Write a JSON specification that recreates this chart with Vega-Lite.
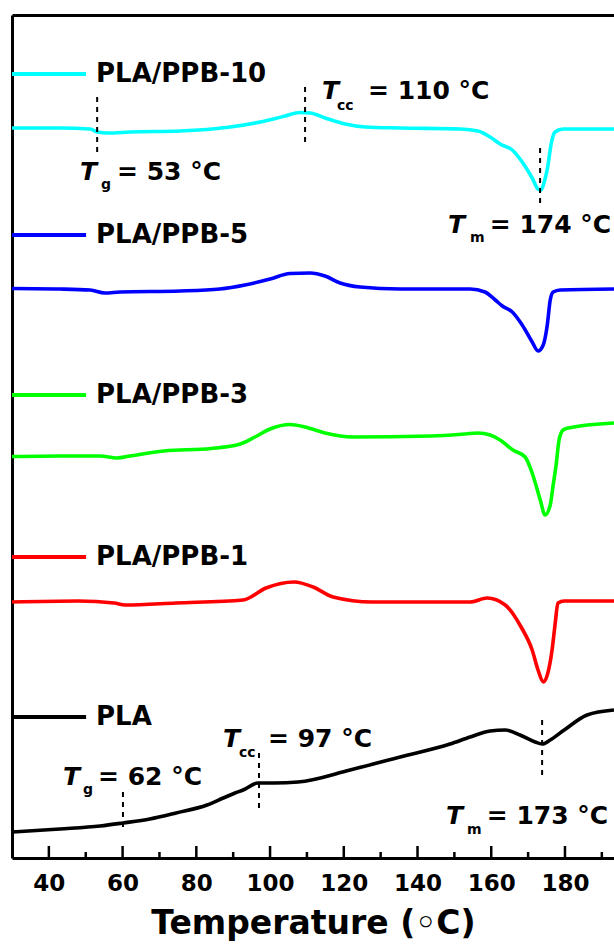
{
  "$schema": "https://vega.github.io/schema/vega-lite/v6.json",
  "width": 602,
  "height": 843,
  "autosize": {"type": "none"},
  "padding": {"left": 12, "top": 15, "right": 0, "bottom": 90},
  "background": "white",
  "config": {"view": {"stroke": null}, "font": "DejaVu Sans"},
  "datasets": {
    "curves": [
      {"s": "PLA/PPB-10", "T": 30.0, "v": 73.0},
      {"s": "PLA/PPB-10", "T": 43.0, "v": 73.0},
      {"s": "PLA/PPB-10", "T": 51.2, "v": 72.9},
      {"s": "PLA/PPB-10", "T": 53.1, "v": 72.6},
      {"s": "PLA/PPB-10", "T": 56.1, "v": 72.5},
      {"s": "PLA/PPB-10", "T": 62.0, "v": 72.6},
      {"s": "PLA/PPB-10", "T": 75.6, "v": 72.7},
      {"s": "PLA/PPB-10", "T": 89.2, "v": 73.1},
      {"s": "PLA/PPB-10", "T": 97.3, "v": 73.6},
      {"s": "PLA/PPB-10", "T": 104.1, "v": 74.2},
      {"s": "PLA/PPB-10", "T": 108.1, "v": 74.55},
      {"s": "PLA/PPB-10", "T": 110.9, "v": 74.5},
      {"s": "PLA/PPB-10", "T": 114.9, "v": 74.0},
      {"s": "PLA/PPB-10", "T": 120.4, "v": 73.4},
      {"s": "PLA/PPB-10", "T": 125.8, "v": 73.1},
      {"s": "PLA/PPB-10", "T": 135.3, "v": 73.0},
      {"s": "PLA/PPB-10", "T": 151.6, "v": 72.9},
      {"s": "PLA/PPB-10", "T": 156.4, "v": 72.7},
      {"s": "PLA/PPB-10", "T": 159.7, "v": 72.1},
      {"s": "PLA/PPB-10", "T": 162.4, "v": 71.4},
      {"s": "PLA/PPB-10", "T": 165.7, "v": 70.8},
      {"s": "PLA/PPB-10", "T": 168.4, "v": 69.6},
      {"s": "PLA/PPB-10", "T": 171.1, "v": 68.0},
      {"s": "PLA/PPB-10", "T": 172.7, "v": 66.9},
      {"s": "PLA/PPB-10", "T": 173.5, "v": 66.8},
      {"s": "PLA/PPB-10", "T": 174.3, "v": 67.5},
      {"s": "PLA/PPB-10", "T": 175.4, "v": 69.3},
      {"s": "PLA/PPB-10", "T": 176.2, "v": 71.3},
      {"s": "PLA/PPB-10", "T": 177.3, "v": 72.6},
      {"s": "PLA/PPB-10", "T": 179.5, "v": 72.9},
      {"s": "PLA/PPB-10", "T": 193.3, "v": 72.9},

      {"s": "PLA/PPB-5", "T": 30.0, "v": 56.95},
      {"s": "PLA/PPB-5", "T": 43.0, "v": 56.9},
      {"s": "PLA/PPB-5", "T": 51.2, "v": 56.8},
      {"s": "PLA/PPB-5", "T": 55.2, "v": 56.5},
      {"s": "PLA/PPB-5", "T": 59.3, "v": 56.6},
      {"s": "PLA/PPB-5", "T": 75.6, "v": 56.7},
      {"s": "PLA/PPB-5", "T": 86.4, "v": 56.9},
      {"s": "PLA/PPB-5", "T": 93.2, "v": 57.3},
      {"s": "PLA/PPB-5", "T": 100.0, "v": 57.9},
      {"s": "PLA/PPB-5", "T": 105.4, "v": 58.45},
      {"s": "PLA/PPB-5", "T": 110.9, "v": 58.5},
      {"s": "PLA/PPB-5", "T": 114.9, "v": 58.2},
      {"s": "PLA/PPB-5", "T": 119.0, "v": 57.5},
      {"s": "PLA/PPB-5", "T": 124.4, "v": 57.1},
      {"s": "PLA/PPB-5", "T": 135.3, "v": 56.9},
      {"s": "PLA/PPB-5", "T": 154.3, "v": 56.9},
      {"s": "PLA/PPB-5", "T": 158.3, "v": 56.6},
      {"s": "PLA/PPB-5", "T": 161.1, "v": 55.8},
      {"s": "PLA/PPB-5", "T": 163.0, "v": 55.2},
      {"s": "PLA/PPB-5", "T": 165.7, "v": 54.6},
      {"s": "PLA/PPB-5", "T": 168.4, "v": 53.3},
      {"s": "PLA/PPB-5", "T": 171.1, "v": 51.6},
      {"s": "PLA/PPB-5", "T": 172.7, "v": 50.7},
      {"s": "PLA/PPB-5", "T": 174.1, "v": 51.3},
      {"s": "PLA/PPB-5", "T": 175.2, "v": 53.3},
      {"s": "PLA/PPB-5", "T": 176.0, "v": 55.8},
      {"s": "PLA/PPB-5", "T": 176.8, "v": 56.6},
      {"s": "PLA/PPB-5", "T": 178.7, "v": 56.8},
      {"s": "PLA/PPB-5", "T": 193.3, "v": 56.9},

      {"s": "PLA/PPB-3", "T": 30.0, "v": 40.15},
      {"s": "PLA/PPB-3", "T": 43.0, "v": 40.2},
      {"s": "PLA/PPB-3", "T": 53.9, "v": 40.2},
      {"s": "PLA/PPB-3", "T": 58.5, "v": 40.0},
      {"s": "PLA/PPB-3", "T": 62.0, "v": 40.2},
      {"s": "PLA/PPB-3", "T": 71.2, "v": 40.7},
      {"s": "PLA/PPB-3", "T": 84.0, "v": 40.95},
      {"s": "PLA/PPB-3", "T": 91.9, "v": 41.4},
      {"s": "PLA/PPB-3", "T": 95.9, "v": 42.1},
      {"s": "PLA/PPB-3", "T": 100.0, "v": 42.9},
      {"s": "PLA/PPB-3", "T": 105.4, "v": 43.35},
      {"s": "PLA/PPB-3", "T": 109.5, "v": 43.1},
      {"s": "PLA/PPB-3", "T": 114.9, "v": 42.5},
      {"s": "PLA/PPB-3", "T": 122.3, "v": 42.1},
      {"s": "PLA/PPB-3", "T": 143.7, "v": 42.2},
      {"s": "PLA/PPB-3", "T": 152.9, "v": 42.4},
      {"s": "PLA/PPB-3", "T": 156.4, "v": 42.5},
      {"s": "PLA/PPB-3", "T": 159.7, "v": 42.3},
      {"s": "PLA/PPB-3", "T": 162.4, "v": 41.8},
      {"s": "PLA/PPB-3", "T": 165.9, "v": 40.8},
      {"s": "PLA/PPB-3", "T": 169.2, "v": 40.1},
      {"s": "PLA/PPB-3", "T": 171.1, "v": 38.5},
      {"s": "PLA/PPB-3", "T": 173.3, "v": 35.8},
      {"s": "PLA/PPB-3", "T": 174.6, "v": 34.3},
      {"s": "PLA/PPB-3", "T": 176.0, "v": 35.3},
      {"s": "PLA/PPB-3", "T": 176.8, "v": 37.3},
      {"s": "PLA/PPB-3", "T": 177.6, "v": 39.3},
      {"s": "PLA/PPB-3", "T": 178.4, "v": 41.8},
      {"s": "PLA/PPB-3", "T": 179.5, "v": 42.8},
      {"s": "PLA/PPB-3", "T": 180.9, "v": 43.0},
      {"s": "PLA/PPB-3", "T": 193.3, "v": 43.5},

      {"s": "PLA/PPB-1", "T": 30.0, "v": 25.6},
      {"s": "PLA/PPB-1", "T": 47.9, "v": 25.7},
      {"s": "PLA/PPB-1", "T": 57.7, "v": 25.5},
      {"s": "PLA/PPB-1", "T": 60.7, "v": 25.3},
      {"s": "PLA/PPB-1", "T": 74.5, "v": 25.5},
      {"s": "PLA/PPB-1", "T": 92.7, "v": 25.8},
      {"s": "PLA/PPB-1", "T": 98.9, "v": 27.0},
      {"s": "PLA/PPB-1", "T": 106.5, "v": 27.6},
      {"s": "PLA/PPB-1", "T": 111.7, "v": 27.1},
      {"s": "PLA/PPB-1", "T": 117.1, "v": 26.1},
      {"s": "PLA/PPB-1", "T": 127.7, "v": 25.6},
      {"s": "PLA/PPB-1", "T": 154.3, "v": 25.6},
      {"s": "PLA/PPB-1", "T": 158.9, "v": 26.0},
      {"s": "PLA/PPB-1", "T": 163.8, "v": 25.3},
      {"s": "PLA/PPB-1", "T": 168.1, "v": 23.1},
      {"s": "PLA/PPB-1", "T": 171.1, "v": 20.8},
      {"s": "PLA/PPB-1", "T": 172.7, "v": 18.8},
      {"s": "PLA/PPB-1", "T": 174.1, "v": 17.6},
      {"s": "PLA/PPB-1", "T": 175.2, "v": 18.3},
      {"s": "PLA/PPB-1", "T": 176.5, "v": 20.8},
      {"s": "PLA/PPB-1", "T": 177.3, "v": 23.3},
      {"s": "PLA/PPB-1", "T": 178.1, "v": 25.5},
      {"s": "PLA/PPB-1", "T": 179.8, "v": 25.7},
      {"s": "PLA/PPB-1", "T": 193.3, "v": 25.7},

      {"s": "PLA", "T": 30.0, "v": 2.6},
      {"s": "PLA", "T": 43.0, "v": 2.9},
      {"s": "PLA", "T": 53.9, "v": 3.2},
      {"s": "PLA", "T": 60.1, "v": 3.5},
      {"s": "PLA", "T": 67.4, "v": 3.9},
      {"s": "PLA", "T": 74.5, "v": 4.5},
      {"s": "PLA", "T": 82.9, "v": 5.3},
      {"s": "PLA", "T": 87.3, "v": 6.0},
      {"s": "PLA", "T": 90.5, "v": 6.5},
      {"s": "PLA", "T": 92.7, "v": 6.8},
      {"s": "PLA", "T": 96.7, "v": 7.5},
      {"s": "PLA", "T": 101.1, "v": 7.5},
      {"s": "PLA", "T": 107.6, "v": 7.6},
      {"s": "PLA", "T": 121.7, "v": 8.8},
      {"s": "PLA", "T": 135.3, "v": 10.1},
      {"s": "PLA", "T": 148.8, "v": 11.4},
      {"s": "PLA", "T": 154.3, "v": 12.1},
      {"s": "PLA", "T": 159.7, "v": 12.7},
      {"s": "PLA", "T": 163.8, "v": 12.8},
      {"s": "PLA", "T": 167.8, "v": 12.3},
      {"s": "PLA", "T": 171.9, "v": 11.6},
      {"s": "PLA", "T": 173.8, "v": 11.4},
      {"s": "PLA", "T": 176.0, "v": 11.8},
      {"s": "PLA", "T": 179.8, "v": 12.8},
      {"s": "PLA", "T": 186.0, "v": 14.3},
      {"s": "PLA", "T": 193.3, "v": 14.8}
    ],
    "marks": [
      {"T": 53.1, "v1": 76.1, "v2": 70.5},
      {"T": 109.5, "v1": 77.1, "v2": 71.6},
      {"T": 173.25, "v1": 71.0, "v2": 65.5},
      {"T": 60.1, "v1": 6.6, "v2": 2.8},
      {"T": 97.0, "v1": 10.5, "v2": 5.0},
      {"T": 173.8, "v1": 13.8, "v2": 8.3}
    ],
    "majors": [{"T": 40}, {"T": 60}, {"T": 80}, {"T": 100}, {"T": 120}, {"T": 140}, {"T": 160}, {"T": 180}],
    "minors": [{"T": 50}, {"T": 70}, {"T": 90}, {"T": 110}, {"T": 130}, {"T": 150}, {"T": 170}, {"T": 190}],
    "legend": [
      {"s": "PLA/PPB-10", "T1": 30.0, "T2": 50.1, "Tl": 52.8, "v": 78.4},
      {"s": "PLA/PPB-5", "T1": 30.0, "T2": 50.1, "Tl": 52.8, "v": 62.3},
      {"s": "PLA/PPB-3", "T1": 30.0, "T2": 50.1, "Tl": 52.8, "v": 46.3},
      {"s": "PLA/PPB-1", "T1": 30.0, "T2": 50.1, "Tl": 52.8, "v": 30.1},
      {"s": "PLA", "T1": 30.0, "T2": 50.1, "Tl": 52.8, "v": 14.1}
    ],
    "notes": [
      {"k": "T", "txt": "T", "T": 114.11, "v": 76.7},
      {"k": "sub", "txt": "cc", "T": 118.18, "v": 75.2},
      {"k": "rest", "txt": "= 110 °C", "T": 126.59, "v": 76.7},
      {"k": "T", "txt": "T", "T": 48.45, "v": 68.6},
      {"k": "sub", "txt": "g", "T": 54.15, "v": 67.3},
      {"k": "rest", "txt": "= 53 °C", "T": 58.49, "v": 68.6},
      {"k": "T", "txt": "T", "T": 148.3, "v": 63.3},
      {"k": "sub", "txt": "m", "T": 154.27, "v": 62.0},
      {"k": "rest", "txt": "= 174 °C", "T": 159.6, "v": 63.3},
      {"k": "T", "txt": "T", "T": 87.25, "v": 11.9},
      {"k": "sub", "txt": "cc", "T": 91.59, "v": 10.5},
      {"k": "rest", "txt": "= 97 °C", "T": 99.46, "v": 11.9},
      {"k": "T", "txt": "T", "T": 43.84, "v": 8.1},
      {"k": "sub", "txt": "g", "T": 49.26, "v": 6.8},
      {"k": "rest", "txt": "= 62 °C", "T": 53.33, "v": 8.1},
      {"k": "T", "txt": "T", "T": 147.75, "v": 4.2},
      {"k": "sub", "txt": "m", "T": 153.45, "v": 2.8},
      {"k": "rest", "txt": "= 173 °C", "T": 158.8, "v": 4.2}
    ]
  },
  "resolve": {"axis": {"x": "independent"}},
  "layer": [
    {
      "data": {"name": "curves"},
      "mark": {"type": "line", "strokeWidth": 3.6, "interpolate": "monotone"},
      "encoding": {
        "x": {
          "field": "T", "type": "quantitative",
          "scale": {"domain": [30, 193.3], "nice": false, "zero": false},
          "axis": {
            "orient": "bottom",
            "values": [40, 60, 80, 100, 120, 140, 160, 180],
            "labelOverlap": false,
            "labelFont": "DejaVu Sans", "labelFontWeight": "bold", "labelFontSize": 23, "labelColor": "black",
            "labelPadding": 14,
            "domainColor": "black", "domainWidth": 3,
            "ticks": false,
            "grid": false,
            "title": "Temperature (◦C)",
            "titleFont": "DejaVu Sans", "titleFontWeight": "bold", "titleFontSize": 33, "titleColor": "black",
            "titlePadding": 12
          }
        },
        "y": {
          "field": "v", "type": "quantitative",
          "scale": {"domain": [0, 84.3], "nice": false, "zero": false},
          "axis": {"orient": "left", "domain": true, "domainColor": "black", "domainWidth": 3, "ticks": false, "labels": false, "grid": false, "title": null}
        },
        "color": {
          "field": "s", "type": "nominal",
          "scale": {"domain": ["PLA/PPB-10", "PLA/PPB-5", "PLA/PPB-3", "PLA/PPB-1", "PLA"], "range": ["#00FFFF", "#0000FF", "#00FF00", "#FF0000", "#000000"]},
          "legend": null
        }
      }
    },
    {
      "data": {"name": "marks"},
      "mark": {"type": "rule", "strokeWidth": 2, "strokeDash": [5, 5], "color": "black"},
      "encoding": {
        "x": {"field": "T", "type": "quantitative", "axis": null},
        "y": {"field": "v1", "type": "quantitative",
          "axis": {"orient": "left", "domain": true, "domainColor": "black", "domainWidth": 3, "ticks": false, "labels": false, "grid": false, "title": null}},
        "y2": {"field": "v2"}
      }
    },
    {
      "data": {"name": "majors"},
      "mark": {"type": "rule", "strokeWidth": 2.5, "color": "black"},
      "encoding": {
        "x": {"field": "T", "type": "quantitative", "axis": null},
        "y": {"datum": 0, "type": "quantitative",
          "axis": {"orient": "left", "domain": true, "domainColor": "black", "domainWidth": 3, "ticks": false, "labels": false, "grid": false, "title": null}},
        "y2": {"datum": 1.2}
      }
    },
    {
      "data": {"name": "minors"},
      "mark": {"type": "rule", "strokeWidth": 2.5, "color": "black"},
      "encoding": {
        "x": {"field": "T", "type": "quantitative", "axis": null},
        "y": {"datum": 0, "type": "quantitative",
          "axis": {"orient": "left", "domain": true, "domainColor": "black", "domainWidth": 3, "ticks": false, "labels": false, "grid": false, "title": null}},
        "y2": {"datum": 0.6}
      }
    },
    {
      "data": {"name": "legend"},
      "mark": {"type": "rule", "strokeWidth": 4},
      "encoding": {
        "x": {"field": "T1", "type": "quantitative",
          "axis": {"orient": "top", "domain": true, "domainColor": "black", "domainWidth": 3, "ticks": false, "labels": false, "grid": false, "title": null}},
        "x2": {"field": "T2"},
        "y": {"field": "v", "type": "quantitative",
          "axis": {"orient": "left", "domain": true, "domainColor": "black", "domainWidth": 3, "ticks": false, "labels": false, "grid": false, "title": null}},
        "color": {"field": "s", "type": "nominal", "legend": null}
      }
    },
    {
      "data": {"name": "legend"},
      "mark": {"type": "text", "align": "left", "baseline": "middle", "font": "DejaVu Sans", "fontWeight": "bold", "fontSize": 26, "color": "black"},
      "encoding": {
        "x": {"field": "Tl", "type": "quantitative", "axis": null},
        "y": {"field": "v", "type": "quantitative",
          "axis": {"orient": "left", "domain": true, "domainColor": "black", "domainWidth": 3, "ticks": false, "labels": false, "grid": false, "title": null}},
        "text": {"field": "s"}
      }
    },
    {
      "data": {"name": "notes"},
      "transform": [{"filter": "datum.k === 'T'"}],
      "mark": {"type": "text", "align": "left", "baseline": "middle", "font": "DejaVu Sans", "fontWeight": "bold", "fontStyle": "italic", "fontSize": 25, "color": "black"},
      "encoding": {
        "x": {"field": "T", "type": "quantitative", "axis": null},
        "y": {"field": "v", "type": "quantitative",
          "axis": {"orient": "left", "domain": true, "domainColor": "black", "domainWidth": 3, "ticks": false, "labels": false, "grid": false, "title": null}},
        "text": {"field": "txt"}
      }
    },
    {
      "data": {"name": "notes"},
      "transform": [{"filter": "datum.k === 'sub'"}],
      "mark": {"type": "text", "align": "left", "baseline": "middle", "font": "DejaVu Sans", "fontWeight": "bold", "fontSize": 14, "color": "black"},
      "encoding": {
        "x": {"field": "T", "type": "quantitative", "axis": null},
        "y": {"field": "v", "type": "quantitative",
          "axis": {"orient": "left", "domain": true, "domainColor": "black", "domainWidth": 3, "ticks": false, "labels": false, "grid": false, "title": null}},
        "text": {"field": "txt"}
      }
    },
    {
      "data": {"name": "notes"},
      "transform": [{"filter": "datum.k === 'rest'"}],
      "mark": {"type": "text", "align": "left", "baseline": "middle", "font": "DejaVu Sans", "fontWeight": "bold", "fontSize": 25, "color": "black"},
      "encoding": {
        "x": {"field": "T", "type": "quantitative", "axis": null},
        "y": {"field": "v", "type": "quantitative",
          "axis": {"orient": "left", "domain": true, "domainColor": "black", "domainWidth": 3, "ticks": false, "labels": false, "grid": false, "title": null}},
        "text": {"field": "txt"}
      }
    }
  ]
}
